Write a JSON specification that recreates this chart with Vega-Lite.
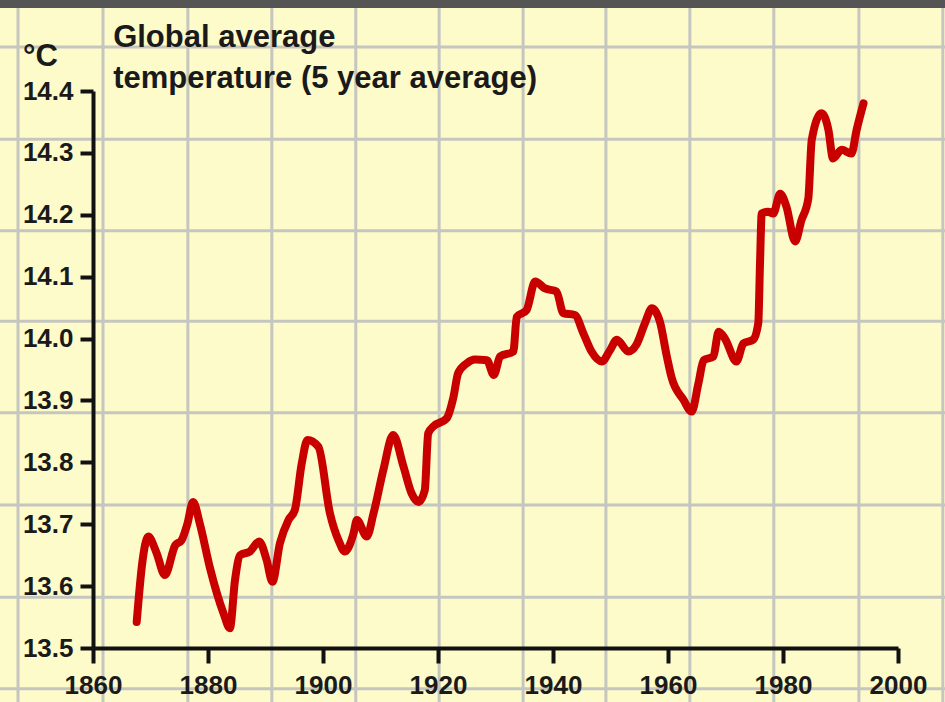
{
  "$schema": "https://vega.github.io/schema/vega-lite/v6.json",
  "width": 805,
  "height": 557,
  "autosize": {"type": "none"},
  "padding": {"left": 93, "top": 91, "right": 47, "bottom": 54},
  "background": "#fdfbc9",
  "config": {
    "view": {"stroke": null},
    "font": "Liberation Sans"
  },
  "datasets": {
    "temp": [
      {"year": 1867.6, "t": 13.542},
      {"year": 1868.6, "t": 13.64},
      {"year": 1869.6, "t": 13.680},
      {"year": 1871.0, "t": 13.655},
      {"year": 1872.5, "t": 13.618},
      {"year": 1874.3, "t": 13.666},
      {"year": 1875.4, "t": 13.674},
      {"year": 1876.4, "t": 13.70},
      {"year": 1877.4, "t": 13.736},
      {"year": 1878.6, "t": 13.70},
      {"year": 1880.3, "t": 13.631},
      {"year": 1882.7, "t": 13.556},
      {"year": 1883.8, "t": 13.532},
      {"year": 1884.7, "t": 13.610},
      {"year": 1885.6, "t": 13.650},
      {"year": 1887.3, "t": 13.656},
      {"year": 1888.9, "t": 13.672},
      {"year": 1890.2, "t": 13.642},
      {"year": 1891.2, "t": 13.607},
      {"year": 1892.5, "t": 13.669},
      {"year": 1894.0, "t": 13.707},
      {"year": 1895.1, "t": 13.723},
      {"year": 1896.3, "t": 13.798},
      {"year": 1897.3, "t": 13.836},
      {"year": 1899.2, "t": 13.825},
      {"year": 1901.2, "t": 13.718},
      {"year": 1902.7, "t": 13.674},
      {"year": 1903.8, "t": 13.656},
      {"year": 1905.3, "t": 13.685},
      {"year": 1905.9, "t": 13.707},
      {"year": 1907.6, "t": 13.680},
      {"year": 1908.8, "t": 13.718},
      {"year": 1910.5, "t": 13.788},
      {"year": 1912.2, "t": 13.844},
      {"year": 1914.0, "t": 13.793},
      {"year": 1915.4, "t": 13.750},
      {"year": 1916.6, "t": 13.736},
      {"year": 1917.7, "t": 13.755},
      {"year": 1918.3, "t": 13.847},
      {"year": 1919.2, "t": 13.858},
      {"year": 1921.5, "t": 13.871},
      {"year": 1922.7, "t": 13.906},
      {"year": 1923.5, "t": 13.944},
      {"year": 1925.0, "t": 13.960},
      {"year": 1926.4, "t": 13.966},
      {"year": 1928.5, "t": 13.965},
      {"year": 1929.7, "t": 13.941},
      {"year": 1930.8, "t": 13.971},
      {"year": 1933.1, "t": 13.979},
      {"year": 1933.7, "t": 14.035},
      {"year": 1935.4, "t": 14.046},
      {"year": 1936.9, "t": 14.092},
      {"year": 1938.6, "t": 14.081},
      {"year": 1940.6, "t": 14.076},
      {"year": 1941.8, "t": 14.041},
      {"year": 1943.8, "t": 14.038},
      {"year": 1945.3, "t": 14.008},
      {"year": 1946.7, "t": 13.979},
      {"year": 1948.5, "t": 13.963},
      {"year": 1949.9, "t": 13.981},
      {"year": 1951.1, "t": 13.998},
      {"year": 1953.1, "t": 13.979},
      {"year": 1954.5, "t": 13.990},
      {"year": 1956.0, "t": 14.025},
      {"year": 1957.2, "t": 14.049},
      {"year": 1958.6, "t": 14.027},
      {"year": 1959.8, "t": 13.971},
      {"year": 1960.6, "t": 13.938},
      {"year": 1962.7, "t": 13.901},
      {"year": 1964.1, "t": 13.882},
      {"year": 1965.3, "t": 13.928},
      {"year": 1966.2, "t": 13.965},
      {"year": 1967.9, "t": 13.971},
      {"year": 1968.8, "t": 14.011},
      {"year": 1969.9, "t": 14.000},
      {"year": 1971.9, "t": 13.963},
      {"year": 1973.1, "t": 13.992},
      {"year": 1974.8, "t": 13.998},
      {"year": 1975.7, "t": 14.025},
      {"year": 1976.0, "t": 14.121},
      {"year": 1976.3, "t": 14.202},
      {"year": 1977.4, "t": 14.205},
      {"year": 1978.3, "t": 14.202},
      {"year": 1979.5, "t": 14.234},
      {"year": 1980.6, "t": 14.213},
      {"year": 1982.1, "t": 14.157},
      {"year": 1983.2, "t": 14.191},
      {"year": 1984.4, "t": 14.226},
      {"year": 1985.0, "t": 14.321},
      {"year": 1986.7, "t": 14.364},
      {"year": 1987.9, "t": 14.337},
      {"year": 1988.7, "t": 14.291},
      {"year": 1990.2, "t": 14.305},
      {"year": 1991.9, "t": 14.299},
      {"year": 1992.8, "t": 14.337},
      {"year": 1994.0, "t": 14.380}
    ],
    "vgrid": [
      {"gx": 1846.96}, {"gx": 1861.74}, {"gx": 1876.5}, {"gx": 1891.1},
      {"gx": 1905.7}, {"gx": 1920.2}, {"gx": 1934.8}, {"gx": 1949.2},
      {"gx": 1963.8}, {"gx": 1978.4}, {"gx": 1993.2}, {"gx": 2007.8}
    ],
    "hgrid": [
      {"gy": 14.471}, {"gy": 14.322}, {"gy": 14.174}, {"gy": 14.028},
      {"gy": 13.880}, {"gy": 13.731}, {"gy": 13.582}, {"gy": 13.434}
    ],
    "titles": [
      {"label": "Global average", "tx": 1863.5, "ty": 14.471},
      {"label": "temperature (5 year average)", "tx": 1863.5, "ty": 14.405}
    ]
  },
  "layer": [
    {
      "data": {"name": "vgrid"},
      "mark": {"type": "rule", "color": "#c6c6c0", "strokeWidth": 3},
      "encoding": {
        "x": {"field": "gx", "type": "quantitative", "scale": {"domain": [1860, 2000], "nice": false, "zero": false}},
        "y": {"datum": 13.3, "scale": {"domain": [13.5, 14.4], "nice": false, "zero": false}},
        "y2": {"datum": 14.54}
      }
    },
    {
      "data": {"name": "hgrid"},
      "mark": {"type": "rule", "color": "#c6c6c0", "strokeWidth": 3},
      "encoding": {
        "y": {"field": "gy", "type": "quantitative", "scale": {"domain": [13.5, 14.4], "nice": false, "zero": false}},
        "x": {"datum": 1840, "scale": {"domain": [1860, 2000], "nice": false, "zero": false}},
        "x2": {"datum": 2020}
      }
    },
    {
      "data": {"values": [{"band": "top"}]},
      "mark": {"type": "rect", "color": "#555555"},
      "encoding": {
        "x": {"datum": 1840, "scale": {"domain": [1860, 2000], "nice": false, "zero": false}},
        "x2": {"datum": 2020},
        "y": {"datum": 14.534, "scale": {"domain": [13.5, 14.4], "nice": false, "zero": false}},
        "y2": {"datum": 14.6}
      }
    },
    {
      "data": {"name": "titles"},
      "mark": {"type": "text", "align": "left", "baseline": "alphabetic", "fontSize": 31, "fontWeight": "bold", "font": "Liberation Sans", "color": "#1a1a1a"},
      "encoding": {
        "x": {"field": "tx", "type": "quantitative", "scale": {"domain": [1860, 2000], "nice": false, "zero": false}},
        "y": {"field": "ty", "type": "quantitative", "scale": {"domain": [13.5, 14.4], "nice": false, "zero": false}},
        "text": {"field": "label"}
      }
    },
    {
      "data": {"name": "temp"},
      "mark": {"type": "line", "color": "#c80000", "strokeWidth": 8, "interpolate": "monotone", "strokeCap": "round", "strokeJoin": "round"},
      "encoding": {
        "x": {
          "field": "year", "type": "quantitative",
          "scale": {"domain": [1860, 2000], "nice": false, "zero": false},
          "axis": {
            "title": null, "zindex": 1, "values": [1860, 1880, 1900, 1920, 1940, 1960, 1980, 2000], "format": "d", "labelFlush": false,
            "grid": false, "domainColor": "#111111", "domainWidth": 4, "tickColor": "#111111", "tickWidth": 4, "tickSize": 15,
            "labelFont": "Liberation Sans", "labelFontWeight": "bold", "labelFontSize": 26, "labelColor": "#1a1a1a", "labelPadding": 9
          }
        },
        "y": {
          "field": "t", "type": "quantitative",
          "scale": {"domain": [13.5, 14.4], "nice": false, "zero": false},
          "axis": {
            "title": "°C", "zindex": 1, "titleAngle": 0, "titleX": -53, "titleY": -26, "titleAlign": "center", "titleBaseline": "alphabetic",
            "titleFont": "Liberation Sans", "titleFontSize": 31, "titleFontWeight": "bold", "titleColor": "#1a1a1a",
            "values": [13.5, 13.6, 13.7, 13.8, 13.9, 14.0, 14.1, 14.2, 14.3, 14.4], "format": ".1f", "labelFlush": false,
            "grid": false, "domainColor": "#111111", "domainWidth": 4, "tickColor": "#111111", "tickWidth": 4, "tickSize": 13,
            "labelFont": "Liberation Sans", "labelFontWeight": "bold", "labelFontSize": 26, "labelColor": "#1a1a1a", "labelPadding": 7
          }
        }
      }
    }
  ]
}
